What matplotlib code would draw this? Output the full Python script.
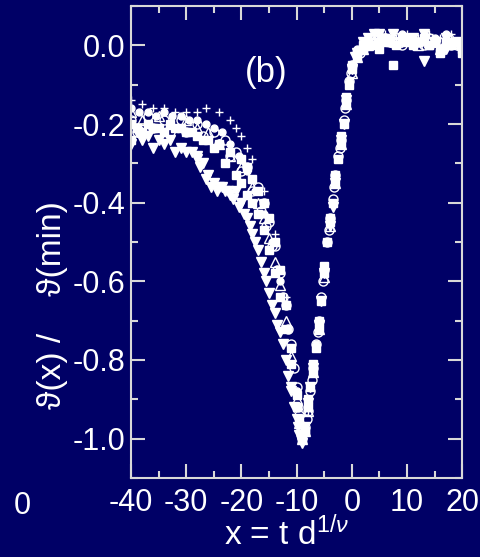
import numpy as np
import matplotlib
matplotlib.use("Agg")
import matplotlib.pyplot as plt
from matplotlib.ticker import MultipleLocator, FormatStrFormatter

plt.rcParams['font.family'] = ['Liberation Sans', 'DejaVu Sans']
plt.rcParams['mathtext.fontset'] = 'custom'
plt.rcParams['mathtext.rm'] = 'Liberation Sans'
plt.rcParams['mathtext.it'] = 'Liberation Sans:italic'
plt.rcParams['axes.unicode_minus'] = False

# filled squares
sq_x = [-40, -38, -36, -34, -32, -30, -28, -26, -24, -22, -20, -19, -18, -17, -16, -15, -14, -13, -12, -11,
        -10, -9.5, -9, -8.5, -8, -7.5, -7, -6.5, -6, -5.5, -5, -4.5, -4, -3.5, -3, -2.5, -2, -1.5, -1, -0.5,
        0, 1, 2, 3, 5, 6, 7.5, 10, 12, 14, 16, 18, 20]
sq_y = [-0.24, -0.22, -0.21, -0.22, -0.21, -0.22, -0.23, -0.24, -0.25, -0.27, -0.29, -0.31, -0.34, -0.37, -0.40, -0.44, -0.50, -0.57, -0.66, -0.77,
        -0.89, -0.95, -1.00, -0.98, -0.92, -0.87, -0.83, -0.77, -0.72, -0.65, -0.58, -0.50, -0.45, -0.40, -0.35, -0.29, -0.25, -0.20, -0.15, -0.10,
        -0.06, -0.03, -0.01, 0.00, -0.01, 0.01, -0.05, 0.02, 0.01, 0.00, -0.01, 0.01, -0.02]

# second set of filled squares
sq2_x = [-40, -39, -37, -35, -33, -31, -29, -27, -25, -23, -21, -20, -19, -18, -17, -16, -15, -14, -13, -12,
         -11, -10, -9, -8.5, -8, -7, -6, -5, -4, -3, -2, -1, 0, 1, 2, 3, 4, 5, 6, 7,
         8, 9, 10, 11, 12, 13, 14, 15, 16, 17, 18, 19, 20]
sq2_y = [-0.20, -0.21, -0.20, -0.21, -0.20, -0.21, -0.22, -0.24, -0.26, -0.30, -0.33, -0.35, -0.38, -0.40, -0.43, -0.47, -0.52, -0.58, -0.64, -0.72,
         -0.81, -0.92, -1.00, -0.98, -0.90, -0.81, -0.70, -0.56, -0.44, -0.33, -0.23, -0.13, -0.05, -0.02, 0.00, 0.01, 0.00, 0.01, 0.02, 0.01,
         0.00, 0.02, 0.01, 0.00, 0.01, 0.02, 0.00, 0.01, -0.02, 0.01, 0.00, 0.01, -0.01]

# filled down triangles
dt_x = [-40, -38, -36, -34, -32, -30, -28, -27, -26, -25, -24, -23, -22, -21, -20, -19, -18.5, -18, -17, -16.5,
        -16, -15, -14.5, -14, -13, -12.5, -12, -11.5, -11, -10.5, -10, -9.5, -9, -8.5, -8, -7, -6, -5, -4, -3,
        -2, -1, 0, 1, 2, 4, 7.5, 9, 11, 13, 15, 17, 19]
dt_y = [-0.25, -0.24, -0.26, -0.25, -0.27, -0.27, -0.28, -0.30, -0.33, -0.35, -0.36, -0.37, -0.38, -0.37, -0.40, -0.44, -0.46, -0.48, -0.52, -0.55,
        -0.58, -0.63, -0.66, -0.68, -0.73, -0.76, -0.80, -0.84, -0.88, -0.92, -0.95, -0.99, -1.01, -0.97, -0.91, -0.82, -0.71, -0.58, -0.46, -0.35,
        -0.24, -0.14, -0.06, -0.02, 0.01, 0.03, 0.03, 0.01, 0.02, -0.04, 0.01, -0.01, 0.00]

# second set of filled down triangles
dt2_x = [-39, -37, -35, -33, -31, -29, -28, -27.5, -26.5, -25.5, -24.5, -23.5, -22.5, -21.5, -20.5, -19.5, -17.5, -15.5, -13.5, -11,
         -9.8, -9, -7.5, -5.5, -3.5, -1.5, 0.5, 3, 5, 7, 9, 11, 13, 15, 17, 19]
dt2_y = [-0.22, -0.23, -0.24, -0.24, -0.26, -0.27, -0.29, -0.31, -0.34, -0.36, -0.37, -0.36, -0.37, -0.39, -0.41, -0.43, -0.50, -0.60, -0.71, -0.87,
         -0.97, -1.00, -0.87, -0.65, -0.41, -0.20, -0.03, 0.02, 0.03, 0.01, 0.02, 0.00, 0.03, 0.01, 0.02, 0.01]

# open circles
oc_x = [-40, -37, -34, -31, -28, -25, -23, -21, -19, -17, -16, -15, -14, -13, -12, -11, -10, -9.5, -9, -8.5,
        -8, -7.5, -7, -6.5, -6, -5.5, -5, -4.5, -4, -3.5, -3, -2.5, -2, -1.5, -1, -0.5, 0, 1, 2, 3,
        5, 7, 9, 11, 13, 15, 17, 19]
oc_y = [-0.19, -0.18, -0.19, -0.19, -0.20, -0.22, -0.24, -0.27, -0.31, -0.36, -0.40, -0.45, -0.51, -0.58, -0.66, -0.76, -0.87, -0.94, -0.99, -0.97,
        -0.93, -0.88, -0.82, -0.76, -0.70, -0.64, -0.57, -0.50, -0.44, -0.39, -0.33, -0.28, -0.24, -0.19, -0.14, -0.09, -0.05, -0.02, -0.01, 0.00,
        0.01, 0.01, 0.00, 0.01, 0.00, 0.01, 0.00, 0.00]

# second set of open circles
oc2_x = [-39, -36, -33, -30, -27, -24, -22, -20, -18, -16.5, -15.5, -14.5, -13.5, -12.5, -11.5, -10.5, -9.8, -9.2, -8.2, -7.2,
         -6.2, -5.2, -4.2, -3.2, -2.2, -1.2, -0.2, 1.5, 2.5, 4, 6, 8, 10, 12, 14, 16, 18, 20]
oc2_y = [-0.22, -0.21, -0.22, -0.22, -0.23, -0.25, -0.28, -0.32, -0.37, -0.42, -0.46, -0.51, -0.57, -0.64, -0.72, -0.82, -0.92, -0.99, -0.95, -0.85,
         -0.73, -0.60, -0.47, -0.36, -0.26, -0.16, -0.07, -0.02, 0.00, 0.01, 0.02, 0.01, 0.02, 0.01, 0.02, 0.01, 0.00, 0.01]

# small filled circles
fc_x = [-40, -38.5, -37, -35.5, -34, -32.5, -31, -29.5, -28, -26.5, -25, -23.5, -22, -20.5, -19, -17.5, -16, -14.5, -13, -11.5,
        -10, -9, -8, -6.5, -5, -3.5, -2, -0.5, 1, 3, 5, 7, 9, 11, 13, 15, 17, 19]
fc_y = [-0.16, -0.17, -0.17, -0.18, -0.17, -0.18, -0.18, -0.19, -0.19, -0.20, -0.21, -0.22, -0.25, -0.28, -0.32, -0.37, -0.43, -0.50, -0.60, -0.72,
        -0.88, -0.99, -0.92, -0.76, -0.58, -0.40, -0.24, -0.09, -0.01, 0.02, 0.03, 0.02, 0.03, 0.02, 0.01, 0.02, 0.03, 0.01]

# open up triangles
ut_x = [-40, -38, -35, -33, -30, -28, -26, -24, -22, -20, -18, -17, -16, -15, -14, -13, -12, -11, -10, -9.5,
        -9, -8.5, -8, -7, -6, -5, -4, -3, -2, -1, 0, 1, 2, 3, 4, 6, 8, 10, 12, 14,
        16, 18, 20]
ut_y = [-0.17, -0.19, -0.18, -0.20, -0.19, -0.21, -0.22, -0.25, -0.28, -0.31, -0.36, -0.40, -0.44, -0.49, -0.55, -0.61, -0.70, -0.79, -0.90, -0.96,
        -1.00, -0.98, -0.93, -0.83, -0.72, -0.59, -0.46, -0.35, -0.25, -0.15, -0.07, -0.03, -0.01, 0.00, 0.01, 0.02, 0.01, 0.02, 0.00, 0.01,
        -0.01, 0.02, 0.01]

# plus signs
pl_x = [-40, -38, -36, -34, -32, -30, -28, -26.5, -24, -22, -21, -20, -19, -18, -16, -14, -12, -10, -9, -8,
        -6, -4, -2, 0, 2, 4, 6, 8, 10, 12, 14, 16, 18, 20]
pl_y = [-0.14, -0.15, -0.16, -0.16, -0.17, -0.17, -0.17, -0.16, -0.17, -0.19, -0.21, -0.23, -0.26, -0.29, -0.37, -0.48, -0.64, -0.88, -1.00, -0.93,
        -0.72, -0.46, -0.24, -0.06, -0.01, 0.02, 0.03, 0.02, 0.03, 0.02, 0.03, 0.02, 0.03, 0.02]

bg = '#000066'
fg = 'white'
axc = '#d8d8d8'

fig = plt.figure(figsize=(4.8, 5.57), dpi=100, facecolor=bg)
ax = fig.add_axes([0.273, 0.142, 0.690, 0.847], facecolor=bg)

ax.plot(sq_x, sq_y, 's', ms=6, color=fg, mec=fg)
ax.plot(sq2_x, sq2_y, 's', ms=6, color=fg, mec=fg)
ax.plot(dt_x, dt_y, 'v', ms=7, color=fg, mec=fg)
ax.plot(dt2_x, dt2_y, 'v', ms=7, color=fg, mec=fg)
ax.plot(fc_x, fc_y, 'o', ms=5, color=fg, mec=fg)
ax.plot(oc_x, oc_y, 'o', ms=6.5, mfc='none', mec=fg, mew=1)
ax.plot(oc2_x, oc2_y, 'o', ms=6.5, mfc='none', mec=fg, mew=1)
ax.plot(ut_x, ut_y, '^', ms=6.5, mfc='none', mec=fg, mew=1)
ax.plot(pl_x, pl_y, '+', ms=6, mec=fg, mew=1)

ax.set_xlim(-40, 20)
ax.set_ylim(-1.1, 0.1)
ax.xaxis.set_major_locator(MultipleLocator(10))
ax.xaxis.set_minor_locator(MultipleLocator(5))
ax.yaxis.set_major_locator(MultipleLocator(0.2))
ax.yaxis.set_minor_locator(MultipleLocator(0.1))
ax.yaxis.set_major_formatter(FormatStrFormatter('%.1f'))

for s in ax.spines.values():
    s.set_color(axc)
    s.set_linewidth(1.5)
ax.tick_params(which='both', direction='in', top=True, right=True, colors=axc,
               labelcolor=fg, labelsize=22)
ax.tick_params(which='major', length=10, width=1.5)
ax.tick_params(which='minor', length=5, width=1.5)
ax.tick_params(axis='x', pad=7)
ax.tick_params(axis='y', pad=4)

ax.set_xlabel('x = t d$^{1/\\nu}$', color=fg, fontsize=24)
ax.xaxis.set_label_coords(0.47, -0.08)
ax.set_ylabel('ϑ(x) /    ϑ(min)', color=fg, fontsize=24)
ax.yaxis.set_label_coords(-0.19, 0.366)

ax.text(-15.5, -0.07, '(b)', color=fg, fontsize=25, ha='center', va='center')
fig.text(22 / 480, 1 - 506 / 557, '0', color=fg, fontsize=22, ha='center', va='center')

fig.savefig('out.png', dpi=100, facecolor=bg)
